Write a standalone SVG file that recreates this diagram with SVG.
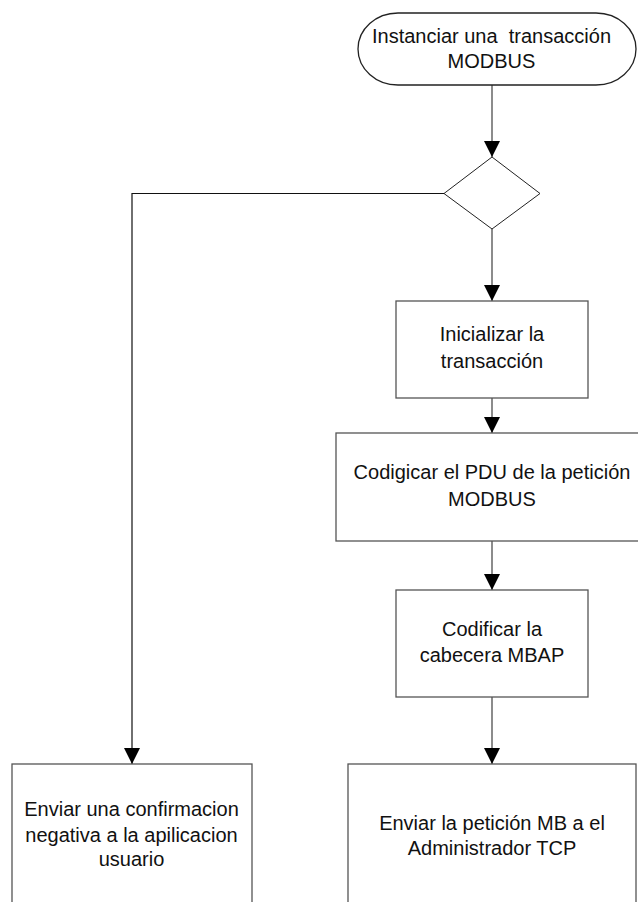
<svg xmlns="http://www.w3.org/2000/svg" width="638" height="902" viewBox="0 0 638 902">
<style>
.box{fill:#fff;stroke:#555;stroke-width:1.3}
.dia{fill:#fff;stroke:#222;stroke-width:1}
.t{font-family:"Liberation Sans",Arial,sans-serif;font-size:20px;fill:#111;text-anchor:middle}
.c{fill:none;stroke:#666;stroke-width:1.5}
.k{fill:none;stroke:#111;stroke-width:1.2}
</style>
<defs>
<marker id="ah" markerUnits="userSpaceOnUse" markerWidth="16" markerHeight="16" viewBox="0 0 14 14" refX="14" refY="7" orient="auto">
<path d="M0,0 L14,7 L0,14 Z" fill="#000"/>
</marker>
</defs>
<rect width="638" height="902" fill="#fff"/>
<g id="connectors">
<line class="c" x1="492" y1="85" x2="492" y2="157" marker-end="url(#ah)"/>
<line class="c" x1="492" y1="229" x2="492" y2="301" marker-end="url(#ah)"/>
<line class="c" x1="492" y1="398" x2="492" y2="433" marker-end="url(#ah)"/>
<line class="c" x1="492" y1="541" x2="492" y2="590" marker-end="url(#ah)"/>
<line class="c" x1="492" y1="697" x2="492" y2="764" marker-end="url(#ah)"/>
<polyline class="k" points="444,193.5 132,193.5 132,764" marker-end="url(#ah)"/>
</g>
<g id="start">
<rect class="box" x="358" y="13" width="278" height="72" rx="40" ry="36" style="stroke:#222"/>
<text class="t" x="491.5" y="43" xml:space="preserve">Instanciar una  transacción</text>
<text class="t" x="491.5" y="68">MODBUS</text>
</g>
<g id="decision">
<polygon class="dia" points="492,157 540,193.5 492,229 444,193.5"/>
</g>
<g id="init">
<rect class="box" x="396" y="301" width="192" height="97"/>
<text class="t" x="492" y="341">Inicializar la</text>
<text class="t" x="492" y="368">transacción</text>
</g>
<g id="pdu">
<rect class="box" x="336" y="433" width="312" height="108"/>
<text class="t" x="492" y="479">Codigicar el PDU de la petición</text>
<text class="t" x="492" y="506">MODBUS</text>
</g>
<g id="mbap">
<rect class="box" x="396" y="590" width="192" height="107"/>
<text class="t" x="492" y="636">Codificar la</text>
<text class="t" x="492" y="662">cabecera MBAP</text>
</g>
<g id="negativa">
<rect class="box" x="12" y="764" width="240" height="150"/>
<text class="t" x="131.5" y="816">Enviar una confirmacion</text>
<text class="t" x="131.5" y="841.5">negativa a la apilicacion</text>
<text class="t" x="131.5" y="866">usuario</text>
</g>
<g id="enviar">
<rect class="box" x="348" y="764" width="288" height="150"/>
<text class="t" x="492" y="830">Enviar la petición MB a el</text>
<text class="t" x="492" y="855">Administrador TCP</text>
</g>
</svg>
